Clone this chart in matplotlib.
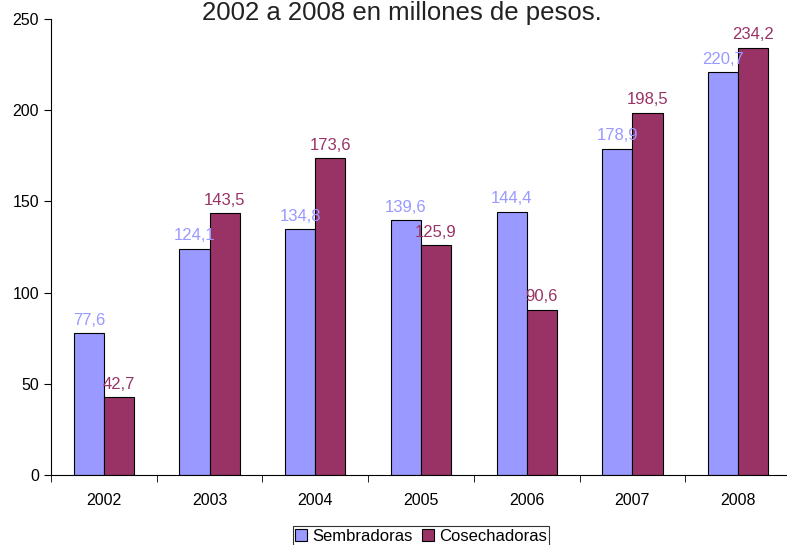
import numpy as np
import matplotlib.pyplot as plt

plt.rcParams['font.family'] = ['Liberation Sans', 'DejaVu Sans']

years = ['2002', '2003', '2004', '2005', '2006', '2007', '2008']
sembradoras = [77.6, 124.1, 134.8, 139.6, 144.4, 178.9, 220.7]
cosechadoras = [42.7, 143.5, 173.6, 125.9, 90.6, 198.5, 234.2]

c_sem = '#9999FF'
c_cos = '#993366'

fig = plt.figure(figsize=(7.87, 5.45), dpi=100)
ax = fig.add_axes([51 / 787, 1 - 475 / 545, 740 / 787, 456 / 545])

x = np.arange(len(years))
w = 0.285
b1 = ax.bar(x - w / 2, sembradoras, w, color=c_sem, edgecolor='black', linewidth=0.8, label='Sembradoras')
b2 = ax.bar(x + w / 2, cosechadoras, w, color=c_cos, edgecolor='black', linewidth=0.8, label='Cosechadoras')

ax.bar_label(b1, labels=[f'{v:.1f}'.replace('.', ',') for v in sembradoras],
             color=c_sem, fontsize=12, padding=4)
ax.bar_label(b2, labels=[f'{v:.1f}'.replace('.', ',') for v in cosechadoras],
             color=c_cos, fontsize=12, padding=4)

ax.set_xlim(-0.5, len(years) - 0.5)
ax.set_ylim(0, 250)
ax.set_yticks([0, 50, 100, 150, 200, 250])
ax.set_xticks(x)
ax.set_xticklabels(years)
ax.set_xticks(np.arange(-0.5, len(years)), minor=True)
ax.tick_params(axis='x', which='major', length=0, pad=13, labelsize=11.5)
ax.tick_params(axis='x', which='minor', length=5, direction='out')
ax.tick_params(axis='y', length=5, direction='out', labelsize=11.5)
ax.spines['top'].set_visible(False)
ax.spines['right'].set_visible(False)

fig.text(0.511, 1 - 13 / 545, '2002 a 2008 en millones de pesos.',
         ha='center', va='center', fontsize=18.5, color='#222222')

leg = fig.legend(loc='center', bbox_to_anchor=(0.535, 0.016), ncol=2, frameon=True,
                 fontsize=12, handlelength=0.7, handleheight=0.7, handletextpad=0.3,
                 columnspacing=0.6, borderpad=0.15, fancybox=False, edgecolor='black')
leg.get_frame().set_linewidth(0.8)

fig.savefig('out.png', dpi=100)
